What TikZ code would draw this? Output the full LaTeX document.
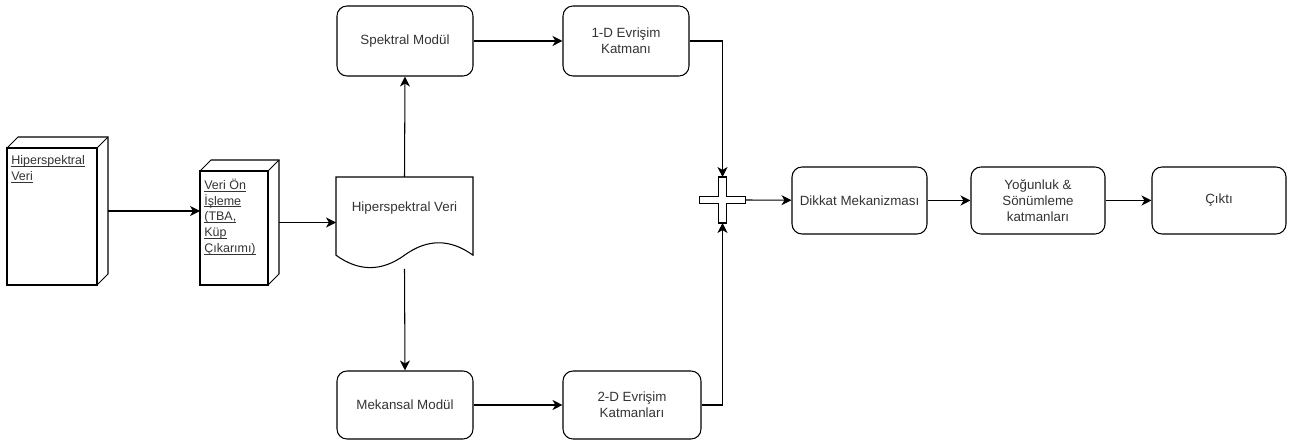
\documentclass[tikz,border=0pt]{standalone}
\usepackage{fontspec}
\setmainfont{Liberation Sans}
\usetikzlibrary{arrows.meta,calc}
\newcommand\uln[1]{\setbox0\hbox{#1}\rlap{\rule[-1.1pt]{\wd0}{0.4pt}}\box0}

\begin{document}
\begin{tikzpicture}[font=\fontsize{7.6}{9.2}\selectfont,>={Stealth[length=2mm,width=2mm,inset=0.6mm]}]
  \tikzset{
    box/.style={draw=black, rounded corners=0.2cm, line width=0.6pt, minimum height=1.38cm, align=center, text=black!80, inner sep=0pt},
    hold/.style={inner sep=0pt, outer sep=0pt},
    plain/.style={draw=black, line width=0.6pt},
    link/.style={draw=black, line width=0.6pt, ->},
    utext/.style={anchor=north west, align=left, inner sep=0pt, text=black!80, font=\fontsize{7.1}{9}\selectfont}
  }
  \def\dep{0.22}
  \useasboundingbox (0,0) rectangle (26.16,8.92);

  % input cubes
  \node[hold,minimum width=2.02cm,minimum height=2.96cm] (hsv) at (1.15,4.70) {};
  \node[hold,minimum width=1.58cm,minimum height=2.50cm] (pre) at (4.79,4.47) {};
  \foreach \c in {hsv,pre} {
    \draw[plain] ($(\c.north west)+(0,-\dep)$) rectangle ($(\c.south east)+(-\dep,0)$);
    \draw[plain] ($(\c.north west)+(0,-\dep)$) -- ($(\c.north west)+(\dep,0)$) -- (\c.north east)
      -- ($(\c.south east)+(0,\dep)$) -- ($(\c.south east)+(-\dep,0)$);
    \draw[plain] ($(\c.north east)+(-\dep,-\dep)$) -- (\c.north east);
  }
  \node[utext] (hsv-t) at ($(hsv.north west)+(0.08,-0.37)$) {\uln{Hiperspektral}\\\uln{Veri}};
  \node[utext] (pre-t) at ($(pre.north west)+(0.08,-0.37)$) {\uln{Veri Ön}\\\uln{İşleme}\\\uln{(TBA,}\\\uln{Küp}\\\uln{Çıkarımı)}};

  % document shape
  \node[hold,minimum width=2.74cm,minimum height=1.84cm] (doc) at (8.09,4.46) {};
  \draw[plain] (doc.north west) -- (doc.north east) -- ($(doc.south west)+(2.74,0.276)$)
    .. controls ($(doc.south west)+(2.283,0.607)$) and ($(doc.south west)+(1.827,0.607)$) .. ($(doc.south west)+(1.37,0.276)$)
    .. controls ($(doc.south west)+(0.913,-0.055)$) and ($(doc.south west)+(0.457,-0.055)$) .. ($(doc.south west)+(0,0.276)$) -- cycle;
  \node[text=black!80] (doc-t) at ($(doc.center)+(0,0.30)$) {Hiperspektral Veri};

  % branches
  \node[box,minimum width=2.72cm,minimum height=1.40cm] (spec) at (8.10,8.10) {Spektral Modül};
  \node[box,minimum width=2.52cm,minimum height=1.40cm] (conv1) at (12.52,8.10) {1-D Evrişim\\Katmanı};
  \node[box,minimum width=2.72cm,minimum height=1.36cm] (spat) at (8.10,0.82) {Mekansal Modül};
  \node[box,minimum width=2.76cm,minimum height=1.36cm] (conv2) at (12.64,0.82) {2-D Evrişim\\Katmanları};

  % merge
  \node[hold,minimum size=0.92cm] (sum) at (14.45,4.92) {};
  \draw[plain,fill=white] ($(sum)+(-0.075,0.46)$) -- ($(sum)+(0.075,0.46)$) -- ($(sum)+(0.075,0.075)$)
    -- ($(sum)+(0.46,0.075)$) -- ($(sum)+(0.46,-0.075)$) -- ($(sum)+(0.075,-0.075)$)
    -- ($(sum)+(0.075,-0.46)$) -- ($(sum)+(-0.075,-0.46)$) -- ($(sum)+(-0.075,-0.075)$)
    -- ($(sum)+(-0.46,-0.075)$) -- ($(sum)+(-0.46,0.075)$) -- ($(sum)+(-0.075,0.075)$) -- cycle;

  % head
  \node[box,minimum width=2.70cm,minimum height=1.34cm] (att) at (17.19,4.91) {Dikkat Mekanizması};
  \node[box,minimum width=2.68cm,minimum height=1.34cm] (dense) at (20.76,4.91) {Yoğunluk \&\\Sönümleme\\katmanları};
  \node[box,minimum width=2.68cm,minimum height=1.34cm] (out) at (24.38,4.91) {Çıktı};

  % connectors
  \draw[link] (hsv.east) -- (hsv.east -| pre.west);
  \draw[link] (pre.east) -- (pre.east -| doc.west);
  \draw[link] (doc.north) -- (spec.south);
  \draw[link] (doc.south) -- (spat.north);
  \draw[link] (spec) -- (conv1);
  \draw[link] (spat) -- (conv2);
  \draw[link] (conv1.east) -| (sum.north);
  \draw[link] (conv2.east) -| (sum.south);
  \draw[link] (sum.east) -- (att);
  \draw[link] (att) -- (dense);
  \draw[link] (dense) -- (out);
\end{tikzpicture}
\end{document}
